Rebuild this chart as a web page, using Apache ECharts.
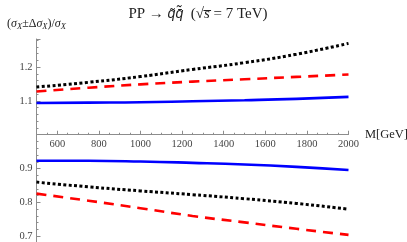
<!DOCTYPE html>
<html>
<head>
<meta charset="utf-8">
<script src="https://cdn.jsdelivr.net/npm/echarts@6/dist/echarts.min.js"></script>
<style>html,body{margin:0;padding:0;background:#fff}#c{width:407px;height:242px}</style>
</head>
<body>
<div id="c"></div>
<script>
// Data
const masses = [500, 750, 1000, 1250, 1500, 1750, 2000];
const upperBlue  = [1.094, 1.095, 1.096, 1.099, 1.102, 1.106, 1.112];
const upperRed   = [1.128, 1.139, 1.149, 1.157, 1.164, 1.171, 1.178];
const upperBlack = [1.141, 1.155, 1.172, 1.193, 1.213, 1.238, 1.270];
const lowerBlue  = [0.923, 0.923, 0.921, 0.917, 0.912, 0.905, 0.896];
const lowerBlack = [0.860, 0.846, 0.834, 0.823, 0.811, 0.797, 0.780];
const lowerRed   = [0.826, 0.805, 0.783, 0.760, 0.741, 0.722, 0.704];
const yTickValues = [0.7, 0.8, 0.9, 1.1, 1.2];
const xTickValues = [600, 800, 1000, 1200, 1400, 1600, 1800, 2000];

const yMin = 0.683, yMax = 1.283;
const serif = '"Liberation Serif", "DejaVu Serif", serif';
const markFont = '"Liberation Sans", "Noto Sans", sans-serif';
const axisGray = '#8c8c8c';
const textCol = '#444';

function mk(name, arr, color, dash) {
  return {
    name, type: 'line', data: masses.map((m, i) => [m, arr[i]]), smooth: true, showSymbol: false,
    lineStyle: { color, width: dash && dash[0] < 5 ? 3 : 2.6, type: dash || 'solid', cap: 'butt' },
    z: 3, silent: true
  };
}

const el = document.getElementById('c');
const chart = echarts.init(el, null, { renderer: 'canvas' });
const gridTop = 39, gridBottom = 0, H = 242;

function xAxisOffset() {
  // move the horizontal axis up so that it crosses the vertical axis at ratio = 1
  const plotH = H - gridTop - gridBottom;
  const yAt1 = gridTop + (yMax - 1) / (yMax - yMin) * plotH;
  return -((H - gridBottom) - yAt1);
}

chart.setOption({
  animation: false,
  backgroundColor: '#fff',
  title: {
    text: 'PP → {q|q\u0303q\u0304\u0303}  (√{s|s\u0305} = 7 TeV)',
    left: 193, top: 2, textAlign: 'center',
    textStyle: {
      fontFamily: serif, fontSize: 15, fontWeight: 'normal', color: '#222',
      rich: {
        q: { fontFamily: markFont, fontSize: 14, fontStyle: 'italic', color: '#222' },
        s: { fontFamily: serif, fontSize: 15, fontStyle: 'italic', color: '#222' }
      }
    }
  },
  grid: { left: 36.5, right: 58.5, top: gridTop, bottom: gridBottom, containLabel: false, outerBoundsMode: 'none' },
  xAxis: {
    type: 'value', min: 500, max: 2000, splitNumber: 7,
    offset: xAxisOffset(),
    name: 'M[GeV]', nameLocation: 'end', nameGap: 4,
    nameTextStyle: { fontFamily: serif, fontSize: 12.5, color: '#222', verticalAlign: 'middle' },
    axisLine: { onZero: false, lineStyle: { color: axisGray, width: 1 } },
    axisTick: { inside: true, length: 4, lineStyle: { color: axisGray } },
    minorTick: { show: true, splitNumber: 4, length: 2, lineStyle: { color: axisGray } },
    axisLabel: {
      showMinLabel: false, margin: 4, fontFamily: serif, fontSize: 10.5, color: textCol,
      formatter: v => xTickValues.includes(v) ? String(v) : ''
    },
    splitLine: { show: false }
  },
  yAxis: {
    type: 'value', min: yMin, max: yMax, splitNumber: 6,
    name: '({s|σ}{sub|X}±Δ{s|σ}{sub|X})/{s|σ}{sub|X}',
    nameLocation: 'end', nameGap: 8,
    nameTextStyle: {
      fontFamily: serif, fontSize: 12, color: '#222', align: 'center',
      rich: {
        s: { fontFamily: serif, fontSize: 12, fontStyle: 'italic', color: '#222' },
        sub: { fontFamily: serif, fontSize: 8.5, fontStyle: 'italic', color: '#222', padding: [6, 0, 0, 0] }
      }
    },
    axisLine: { show: true, onZero: false, lineStyle: { color: axisGray, width: 1 } },
    axisTick: { inside: true, length: 4, lineStyle: { color: axisGray } },
    minorTick: { show: true, splitNumber: 5, length: 2, lineStyle: { color: axisGray } },
    axisLabel: {
      showMinLabel: false, showMaxLabel: false, margin: 4,
      fontFamily: serif, fontSize: 10.5, color: textCol,
      formatter: v => {
        const r = +v.toFixed(2);
        return yTickValues.some(t => Math.abs(t - r) < 1e-6) ? r.toFixed(1) : '';
      }
    },
    splitLine: { show: false }
  },
  series: [
    mk('upperBlack', upperBlack, '#000', [3, 2.4]),
    mk('upperRed', upperRed, '#ff0000', [10, 7]),
    mk('upperBlue', upperBlue, '#0000ff'),
    mk('lowerBlue', lowerBlue, '#0000ff'),
    mk('lowerBlack', lowerBlack, '#000', [3, 2.4]),
    mk('lowerRed', lowerRed, '#ff0000', [10, 7])
  ]
});
</script>
</body>
</html>
